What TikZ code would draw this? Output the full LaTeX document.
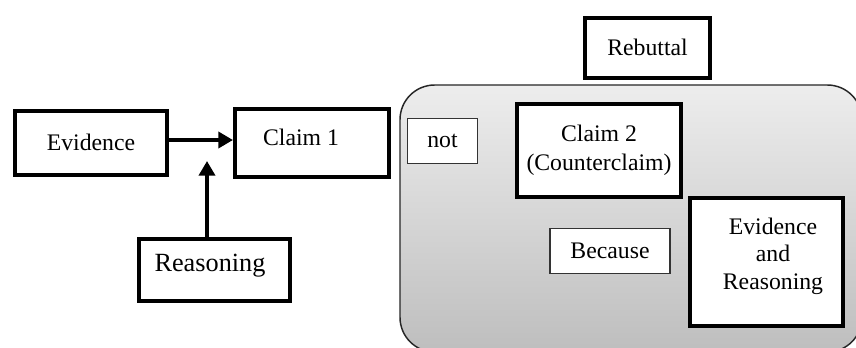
\documentclass[tikz,border=0pt]{standalone}
\usepackage{fontspec}
\setmainfont{Liberation Serif}
\usetikzlibrary{arrows.meta}
\definecolor{gtop}{HTML}{EDEDED}
\definecolor{gbot}{HTML}{BEBEBE}
\begin{document}
\begin{tikzpicture}[x=0.75pt,y=-0.75pt,
  every node/.style={font=\fontsize{17.8}{21}\selectfont, align=center},
  thickbox/.style={draw=black, line width=3pt, fill=white, inner sep=0pt},
  thinbox/.style={draw=black!80, line width=0.8pt, fill=white, inner sep=0pt},
  bigarrow/.style={line width=3pt, -{Triangle[length=11pt,width=12pt]}}]
\useasboundingbox (0,0) rectangle (856,347);
\fill[white] (0,0) rectangle (856,347);
\begin{scope}
\clip (0,0) rectangle (856,347);
\draw[line width=1.1pt, draw=black!85, rounded corners=26pt, top color=gtop, bottom color=gbot]
  (400,85) rectangle (862,352);
\end{scope}
% left part
\node[thickbox, minimum width=114pt, minimum height=48pt] (evidence) at (91,142.5) {Evidence};
\node[thickbox, minimum width=115.5pt, minimum height=51pt] (claim1) at (312,143) {};
\node (claim1text) at (301,137) {Claim 1};
\node[thickbox, minimum width=113pt, minimum height=47pt] (reasoning) at (214.5,270) {};
\node[font=\fontsize{19.7}{23}\selectfont] (reasoningtext) at (210,266) {Reasoning};
\coordinate (rtip) at (207,161);
\draw[bigarrow] (evidence.east |- 0,140) -- (claim1.west |- 0,140);
\draw[bigarrow] (reasoning.north -| rtip) -- (rtip);
% right part
\node[thickbox, minimum width=94pt, minimum height=45pt] (rebuttal) at (647.5,47.5) {Rebuttal};
\node[thinbox, minimum width=53pt, minimum height=34pt] (not) at (442.5,141) {not};
\node[thickbox, minimum width=123pt, minimum height=70pt, font=\fontsize{17.8}{21.5}\selectfont] (claim2) at (599,150.5) {Claim 2\\(Counterclaim)};
\node[thinbox, minimum width=90pt, minimum height=34pt] (because) at (610,251) {Because};
\node[thickbox, minimum width=115pt, minimum height=96pt] (evreas) at (766.5,261.5) {};
\node[font=\fontsize{17.8}{20.6}\selectfont] (evreastext) at (773,256) {Evidence\\and\\Reasoning};
\end{tikzpicture}
\end{document}
